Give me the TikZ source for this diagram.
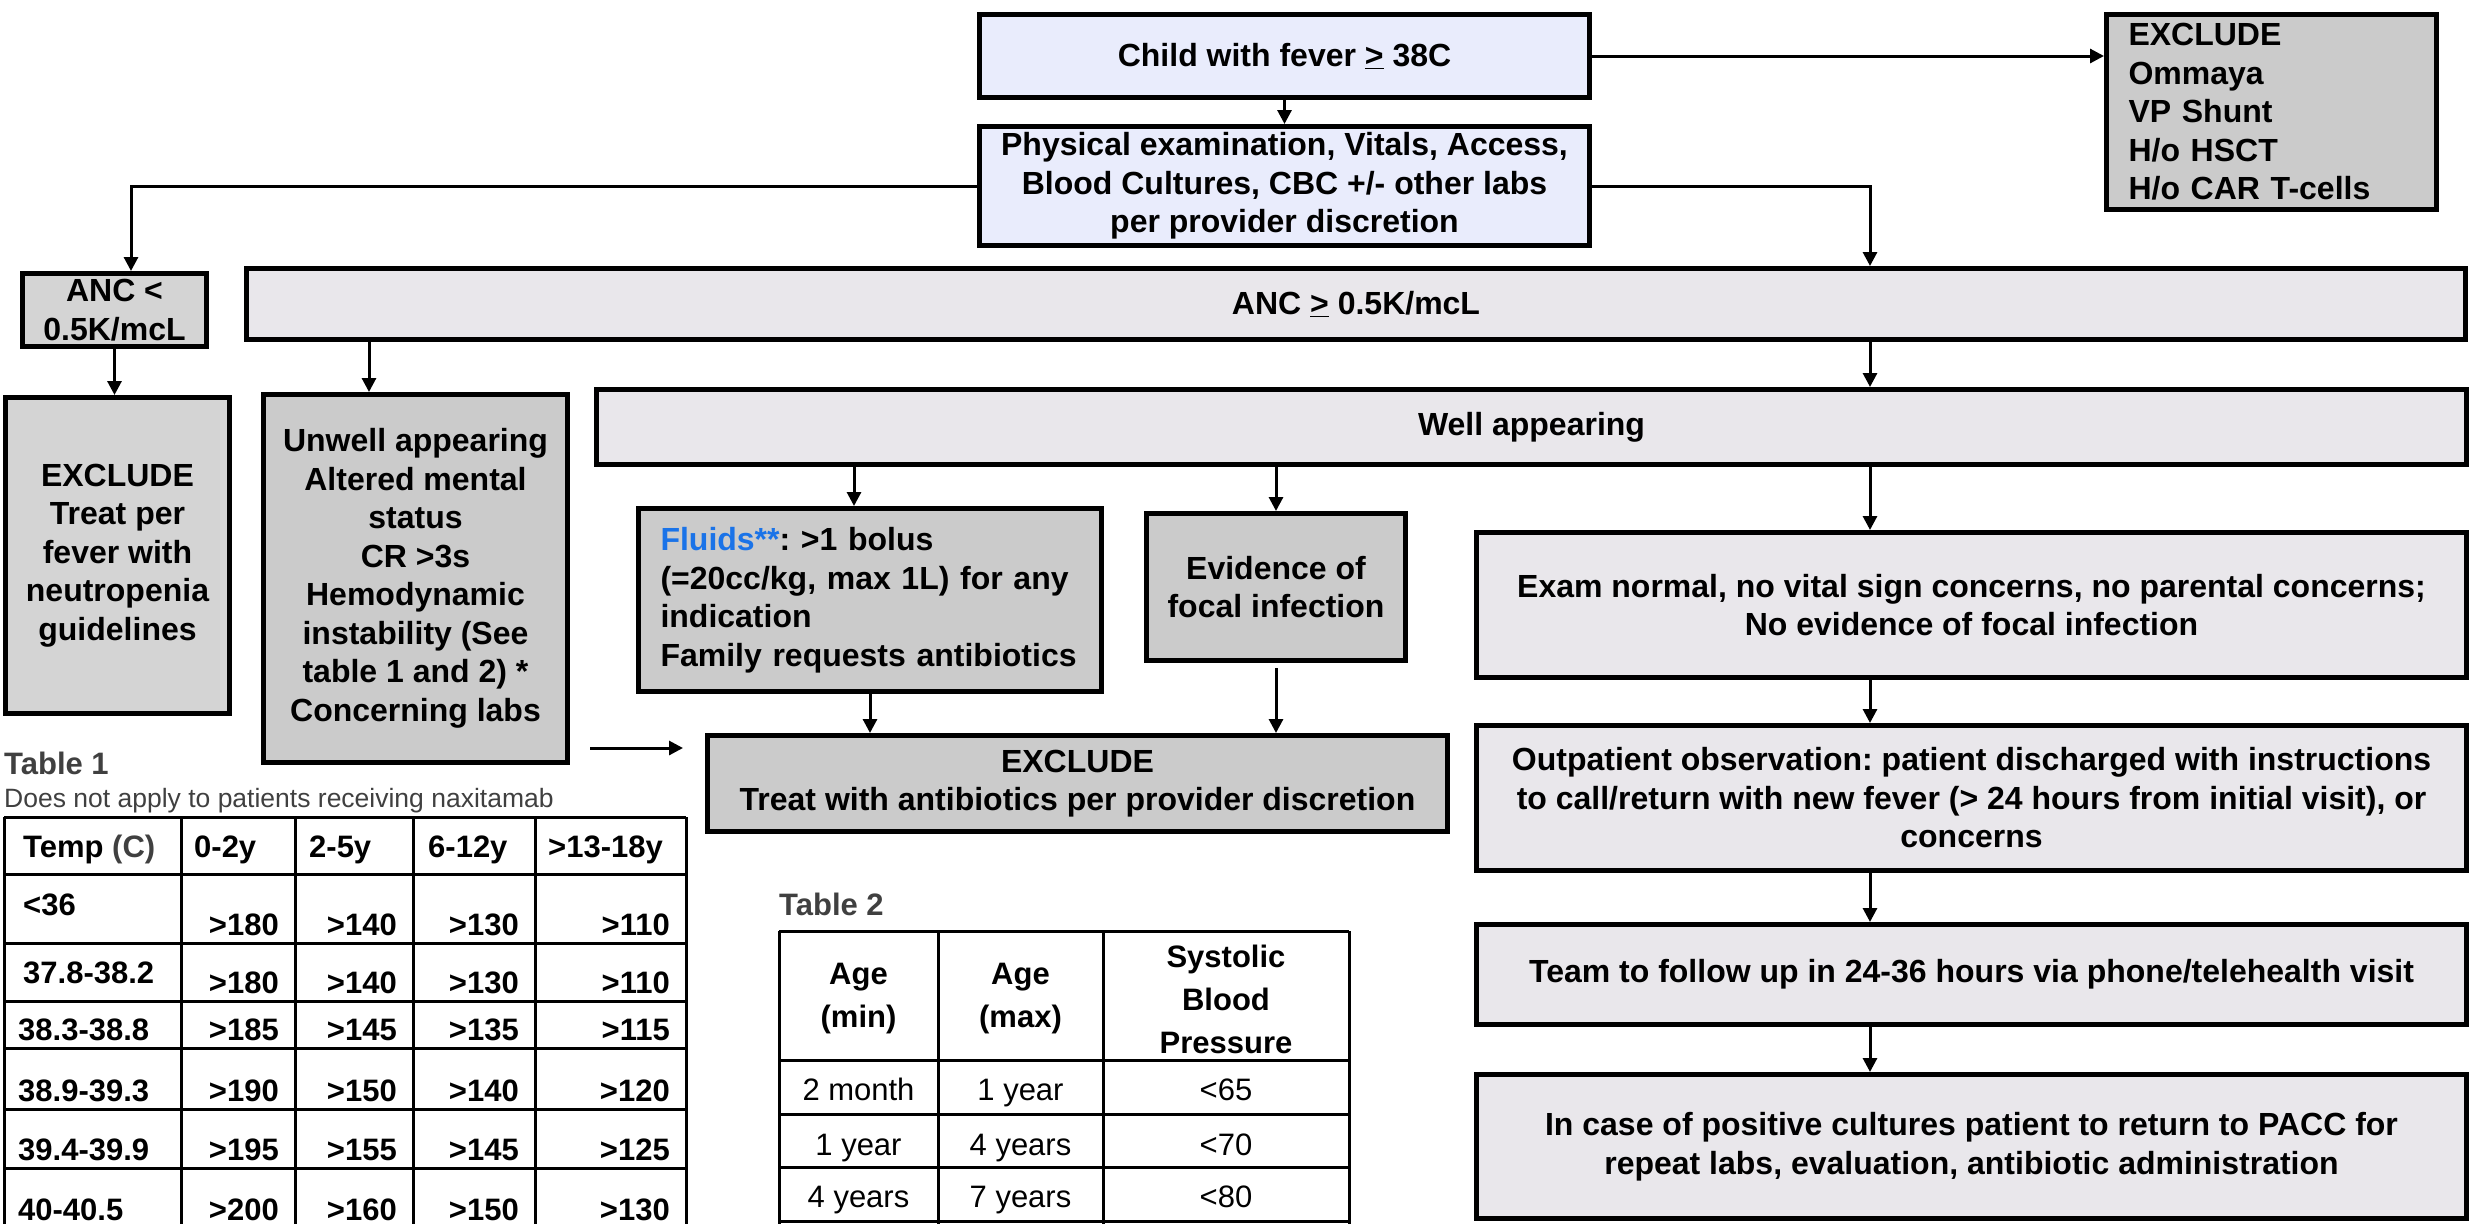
\documentclass[tikz,border=0pt]{standalone}
\usepackage{fontspec}
\setmainfont{Liberation Sans}
\usetikzlibrary{arrows.meta}
\definecolor{bluefill}{HTML}{E9ECFC}
\definecolor{lgray}{HTML}{E9E7EB}
\definecolor{mgray}{HTML}{D4D4D4}
\definecolor{dgray}{HTML}{CBCBCB}
\definecolor{fluidblue}{HTML}{1A73E8}
\definecolor{titlegray}{HTML}{404040}
\newcommand{\bxfont}{\fontsize{32}{38.5}\selectfont\bfseries}
\newcommand{\tbfont}{\fontsize{31}{37}\selectfont}
\frenchspacing
\begin{document}
\begin{tikzpicture}[x=1pt,y=-1pt,
  box/.style={draw=black, line width=5pt, inner sep=0pt, align=center, font=\bxfont},
  arr/.style={draw=black, line width=3pt, -{Triangle[length=14pt,width=14pt]}},
  tline/.style={draw=black, line width=3pt},
  tcell/.style={inner sep=0pt, font=\tbfont\bfseries},
  tcellr/.style={inner sep=0pt, font=\tbfont},
  ttitle/.style={inner sep=0pt, anchor=base west, text=titlegray}]
\fill[white] (0,0) rectangle (2471,1224);
\useasboundingbox (0,0) rectangle (2471,1224);

% helper coordinates for connector columns
\coordinate (rc) at (1870,0);
\coordinate (lc) at (369,0);
\coordinate (fc) at (854,0);
\coordinate (ac) at (131,0);

% boxes
\node[box, fill=bluefill, minimum width=610pt, minimum height=83pt] (top) at (1284.5,56) {Child with fever \underline{>} 38C};
\node[box, fill=bluefill, minimum width=610pt, minimum height=119pt] (phys) at (1284.5,186) {Physical examination, Vitals, Access,\\Blood Cultures, CBC +/- other labs\\per provider discretion};
\node[box, fill=dgray, minimum height=195pt, text width=286pt, inner xsep=22pt, align=left] (excl) at (2271.5,112) {EXCLUDE\\Ommaya\\VP Shunt\\H/o HSCT\\H/o CAR T-cells};
\node[box, fill=mgray, minimum width=184pt, minimum height=73pt] (ancl) at (114.5,310) {ANC <\\0.5K/mcL};
\node[box, fill=lgray, minimum width=2219pt, minimum height=71pt] (ancg) at (1356,304) {ANC \underline{>} 0.5K/mcL};
\node[box, fill=mgray, minimum width=224pt, minimum height=316pt] (neutro) at (117.5,555.5) {EXCLUDE\\Treat per\\fever with\\neutropenia\\guidelines};
\node[box, fill=dgray, minimum width=304pt, minimum height=368pt] (unwell) at (415.5,578.5) {Unwell appearing\\Altered mental\\status\\CR >3s\\Hemodynamic\\instability (See\\table 1 and 2) *\\Concerning labs};
\node[box, fill=lgray, minimum width=1870pt, minimum height=75pt] (well) at (1531.5,427) {Well appearing};
\node[box, fill=dgray, minimum height=183pt, text width=419pt, inner xsep=22pt, align=left] (fluids) at (870,600) {{\color{fluidblue}Fluids**}: >1 bolus\\(=20cc/kg, max 1L) for any\\indication\\Family requests antibiotics};
\node[box, fill=dgray, minimum width=259pt, minimum height=147pt] (evid) at (1276,587) {Evidence of\\focal infection};
\node[box, fill=dgray, minimum width=740pt, minimum height=96pt] (exabx) at (1077.5,783.5) {EXCLUDE\\Treat with antibiotics per provider discretion};
\node[box, fill=lgray, minimum width=990pt, minimum height=145pt] (exam) at (1971.5,605) {Exam normal, no vital sign concerns, no parental concerns;\\No evidence of focal infection};
\node[box, fill=lgray, minimum width=990pt, minimum height=145pt] (outpt) at (1971.5,798) {Outpatient observation: patient discharged with instructions\\to call/return with new fever (> 24 hours from initial visit), or\\concerns};
\node[box, fill=lgray, minimum width=990pt, minimum height=100pt] (team) at (1971.5,974.5) {Team to follow up in 24-36 hours via phone/telehealth visit};
\node[box, fill=lgray, minimum width=990pt, minimum height=144pt] (incase) at (1971.5,1146.5) {In case of positive cultures patient to return to PACC for\\repeat labs, evaluation, antibiotic administration};

% connectors
\draw[arr] (top.south) -- (phys.north);
\draw[arr] (top.east) -- (excl.west |- top.east);
\draw[arr] (phys.west) -| (ancl.north -| ac);
\draw[arr] (phys.east) -| (ancg.north -| rc);
\draw[arr] (ancl.south) -- (neutro.north -| ancl.south);
\draw[arr] (ancg.south -| lc) -- (unwell.north -| lc);
\draw[arr] (ancg.south -| rc) -- (well.north -| rc);
\draw[arr] (well.south -| fc) -- (fluids.north -| fc);
\draw[arr] (well.south -| evid.north) -- (evid.north);
\draw[arr] (well.south -| rc) -- (exam.north -| rc);
\draw[arr] (fluids.south) -- (exabx.north -| fluids.south);
\draw[arr] ([yshift=-5pt]evid.south) -- (exabx.north -| evid.south);
\draw[arr] (exam.south -| rc) -- (outpt.north -| rc);
\draw[arr] (outpt.south -| rc) -- (team.north -| rc);
\draw[arr] (team.south -| rc) -- (incase.north -| rc);
\coordinate (fa1) at (590,748);
\coordinate (fa2) at (683,748);
\draw[arr] (fa1) -- (fa2);

% Table 1
\node[ttitle, font=\fontsize{31}{37}\selectfont\bfseries] (t1title) at (4,774) {Table 1};
\node[ttitle, font=\fontsize{26.5}{32}\selectfont] (t1sub) at (4,807) {Does not apply to patients receiving naxitamab};
\foreach \yy in {817,874,943,1001,1048,1109,1168} \draw[tline] (4,\yy) -- (686,\yy);
\foreach \xx in {4,181,295,413,535,686} \draw[tline] (\xx,817) -- (\xx,1224);
\node[tcell, anchor=base west] (t1h0) at (23,857) {Temp {\color{titlegray}(C)}};
\node[tcell, anchor=base west] (t1h1) at (194,857) {0-2y};
\node[tcell, anchor=base west] (t1h2) at (309,857) {2-5y};
\node[tcell, anchor=base west] (t1h3) at (428,857) {6-12y};
\node[tcell, anchor=base west] (t1h4) at (548,857) {>13-18y};
\foreach \lab/\lx/\ly/\vy/\va/\vb/\vc/\vd [count=\i] in {
  {<36}/23/915/935/>180/>140/>130/>110,
  {37.8-38.2}/23/983/993/>180/>140/>130/>110,
  {38.3-38.8}/18/1040/1040/>185/>145/>135/>115,
  {38.9-39.3}/18/1101/1101/>190/>150/>140/>120,
  {39.4-39.9}/18/1160/1160/>195/>155/>145/>125,
  {40-40.5}/18/1220/1220/>200/>160/>150/>130}{
  \node[tcell, anchor=base west] (t1l\i) at (\lx,\ly) {\lab};
  \node[tcell, anchor=base east] (t1a\i) at (279,\vy) {\va};
  \node[tcell, anchor=base east] (t1b\i) at (397,\vy) {\vb};
  \node[tcell, anchor=base east] (t1c\i) at (519,\vy) {\vc};
  \node[tcell, anchor=base east] (t1d\i) at (670,\vy) {\vd};
}

% Table 2
\node[ttitle, font=\fontsize{31}{37}\selectfont\bfseries] (t2title) at (779,915) {Table 2};
\foreach \yy in {931,1060,1114,1167,1221} \draw[tline] (779,\yy) -- (1349,\yy);
\foreach \xx in {779,938,1103,1349} \draw[tline] (\xx,931) -- (\xx,1224);
\node[tcell, align=center, font=\fontsize{31}{43}\selectfont\bfseries] (t2h1) at (858.5,999) {Age\\(min)};
\node[tcell, align=center, font=\fontsize{31}{43}\selectfont\bfseries] (t2h2) at (1020.5,999) {Age\\(max)};
\node[tcell, align=center, font=\fontsize{31}{43}\selectfont\bfseries] (t2h3) at (1226,999) {Systolic\\Blood\\Pressure};
\foreach \ca/\cb/\cc/\by [count=\i] in {2 month/1 year/{<65}/1100, 1 year/4 years/{<70}/1155, 4 years/7 years/{<80}/1207}{
  \node[tcellr, anchor=base] (t2a\i) at (858.5,\by) {\ca};
  \node[tcellr, anchor=base] (t2b\i) at (1020.5,\by) {\cb};
  \node[tcellr, anchor=base] (t2c\i) at (1226,\by) {\cc};
}
\end{tikzpicture}
\end{document}
